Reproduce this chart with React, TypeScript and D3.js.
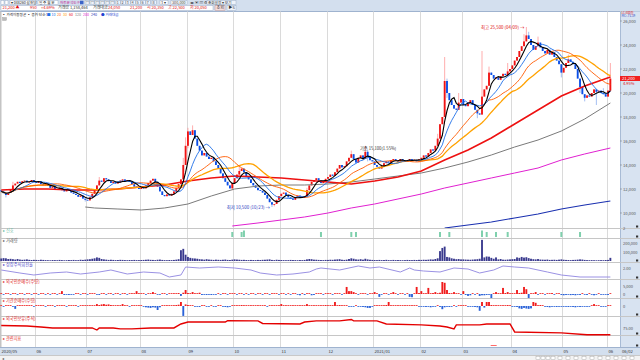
import React from "react";
import * as d3 from "d3";

// daily closes (won), 2020-05 .. 2021-06-02
const closes = [
  11800, 11650, 11500, 11700, 12000, 12300, 12450, 12600, 12500, 12650, 12700, 12550, 12600, 12750, 12600,
  12500, 12650, 12400, 12300, 12450, 12250, 12100, 12200, 12000, 11950, 12100, 11900, 11800, 11950, 11850, 11700, 11600, 11500, 11350, 11450, 11200, 11100,
  11050, 11300, 11600, 11900, 12300, 12700, 12600, 12900, 12800, 12650, 12500, 12600, 12450, 12550, 12700, 12800, 12650, 12750, 12600, 12400, 12200, 12100,
  12000, 12150, 12050, 12300, 12500, 12700, 12850, 12600, 12200, 11800, 11500, 11400, 11550, 11450, 11600, 11800, 12100, 12400, 12800, 14000, 15600,
  16800, 16500, 16900, 16200, 15600, 15200, 14800, 15000, 14700, 14500, 14600, 14300, 14000, 13700, 13300, 12900, 12600, 12300, 12050, 12500,
  12900, 13200, 13500, 13700, 13400, 13000, 12800, 12500, 12300, 12100, 11900, 11850, 11700, 11500, 11200, 10900, 10700, 10750, 11100, 11400,
  11600, 11700, 11500, 11300, 11200, 11100, 11300, 11450, 11350, 11250, 11400, 11900, 12300, 12600, 12750, 12900, 12700, 12500, 12600, 12850,
  13000, 13200, 13100, 13400, 13700, 14000, 13800, 13900, 14300, 14600, 14900, 14500, 14200, 14600, 14800, 14500, 15100, 14700, 14400, 14300,
  14000, 13850, 13700, 13900, 14150, 14300, 14200, 14400, 14500, 14350, 14300, 14500, 14400, 14250, 14400, 14500, 14350, 14450, 14300, 14500,
  14600, 14800, 14700, 15000, 15300, 15200, 15600, 16200, 17400, 18000, 21000, 20000, 19400, 19000, 18700, 18600, 19200, 19500,
  19000, 18900, 19200, 19400, 19000, 18600, 18300, 18200, 19700, 20300, 20600, 21700, 21500, 21200, 21300, 21100, 21400, 21600, 21500, 21800, 22000,
  22300, 22700, 23000, 23500, 23900, 24300, 24800, 24500, 24000, 23600, 23900, 24200, 23800, 23500, 23300, 23600, 23200, 23400, 23000, 22700, 22400, 21700,
  22100, 22500, 22800, 22600, 22400, 22000, 21200, 20500, 19900, 19600, 19800, 19700, 20000, 20300, 20100, 20200, 20000, 19900, 19700,
  20200, 21200,
];
const firstOpen = 11900;

// visible shadows (0 = none beyond the body)
const wickIdx = [2, 5, 36, 42, 78, 79, 80, 82, 83, 99, 102, 116, 117, 131, 150, 156, 157, 187, 190, 191, 196, 204, 206, 209, 217, 224, 225, 226, 230, 240, 243, 248, 250, 255, 258, 261];
const wickHigh = [0, 12600, 0, 13000, 14600, 16300, 17100, 17300, 16900, 0, 13900, 0, 0, 12100, 15200, 15600, 15300, 16600, 23000, 21200, 20000, 0, 23500, 22200, 22500, 24900, 25500, 25100, 24700, 22300, 23200, 0, 0, 0, 20400, 22500];
const wickLow = [11300, 0, 10950, 0, 0, 0, 15400, 0, 0, 11900, 0, 10500, 10550, 0, 0, 0, 14300, 0, 0, 19600, 0, 17900, 0, 0, 0, 0, 0, 0, 0, 21300, 0, 20000, 19300, 19000, 0, 20100];

// volume, thousand shares
const volumes = [
  28, 32, 30, 22, 24, 20, 16, 22, 16, 13, 15, 18, 13, 11, 13,
  12, 10, 14, 12, 10, 9, 8, 11, 10, 9, 12, 10, 8, 9, 11, 10, 12, 9, 10, 14, 12, 15,
  18, 20, 25, 30, 40, 35, 22, 18, 15, 12, 14, 12, 10, 11, 13, 12, 10, 9, 11, 10, 12, 10,
  10, 11, 12, 14, 16, 13, 12, 10, 14, 16, 12, 10, 9, 11, 10, 12, 15, 20, 120, 135, 70,
  45, 35, 30, 28, 25, 20, 18, 15, 20, 16, 14, 12, 15, 13, 12, 14, 16, 12, 11, 15,
  18, 16, 14, 12, 13, 11, 10, 12, 11, 10, 12, 11, 13, 14, 16, 18, 12, 10, 14, 12,
  11, 10, 9, 10, 12, 11, 10, 9, 11, 10, 12, 18, 22, 20, 15, 14, 12, 11, 10, 12,
  12, 14, 13, 16, 18, 20, 14, 12, 15, 22, 30, 25, 18, 16, 20, 15, 25, 18, 14, 12,
  11, 10, 12, 10, 11, 13, 10, 9, 12, 10, 11, 10, 9, 10, 12, 11, 10, 12, 11, 13,
  12, 14, 13, 15, 18, 16, 22, 30, 110, 145, 160, 45, 40, 30, 25, 20, 22, 18,
  18, 16, 15, 14, 16, 18, 20, 25, 235, 40, 50, 48, 35, 25, 40, 18, 22, 15, 14, 16, 18,
  20, 22, 40, 35, 45, 38, 42, 32, 25, 20, 18, 22, 16, 15, 14, 16, 12, 13, 14, 12, 15, 18,
  14, 12, 11, 10, 12, 13, 15, 18, 16, 12, 10, 9, 10, 9, 8, 9, 10, 9, 11,
  12, 35,
];

// foreign net buying, hundred shares
const foreignNet = [
  3, -2, 4, 2, -3, 5, 3, -2, 2, 4, -3, 2, 3, -2, 2, 3, -4, 2, 3, -2,
  2, -3, 4, 2, -2, 3, 18, -6, -5, -6, -4, -3, 2, 3, -2, 2, 3, -3, 4, 5,
  3, -4, -6, 3, 2, -2, 3, 2, -3, 2, 3, -2, 2, 4, -3, 2, 3, 5, 18, 3,
  2, 4, -3, 3, 5, 12, 3, -2, -4, 2, 3, -2, 2, 3, 4, 3, 6, -12, 8, 25,
  6, 4, 12, 5, 3, 8, -6, -5, -6, -4, -6, -5, -3, 2, -2, 3, 2, -3, 2, 4,
  3, -2, 4, 3, -3, 2, -2, 3, 2, -3, 2, 3, -2, 2, 3, -3, 2, 4, 3, -2,
  2, 3, -3, 2, -2, 3, 2, -3, -8, 2, -6, 3, 2, -8, -6, 3, 2, 4, -3, 3,
  4, 2, -3, 3, 5, 3, -2, 4, 44, 18, 18, 12, 4, -3, 3, 5, 3, -2, 4, 3,
  12, 3, -18, -4, 3, 2, -3, 5, 12, 3, -3, 4, 2, -4, 3, -18, -20, 4, 44, 6,
  18, 4, 5, 38, 3, 6, 12, 4, 8, 75, 70, 25, 6, 4, 12, 3, 5, -4, 18, -6,
  -12, -8, 3, -4, 2, -12, -8, -8, -6, -4, -25, 3, 12, 5, 4, 38, 6, 12, 3, 4,
  5, 25, 6, 8, 44, 30, -25, 3, 4, 12, -4, 3, 5, -3, 4, 3, 6, -4, 3, 2,
  -6, -8, -6, -5, -7, -6, -8, -5, -6, 3, -4, -6, 2, -3, -8, -4, 2, -3, -4, -2,
  -6, 3,
];

// institution net buying, hundred shares
const instNet = [
  4, -3, 3, 5, 2, -3, -18, 3, 4, 2, 3, 5, 2, 4, -3, 3, 2, 4, 3, -2,
  3, 4, 2, -3, 3, 5, 2, 3, -2, 4, 3, 2, 4, -3, 2, 3, 5, 3, 2, 4,
  3, 12, 6, 10, 12, 8, 10, 6, 3, 4, 3, 5, 12, 4, 3, -2, 3, 4, 2, 3,
  2, -3, -8, -10, -12, -8, -10, -25, -8, 3, 4, 2, 5, 3, 4, 6, 8, 25, -62, 10,
  6, 4, 3, -5, -4, -6, 3, 2, -3, -2, 3, -4, -5, 2, 3, -3, -6, -8, -4, 2,
  3, 4, 2, 6, 3, 4, 2, 3, 5, 2, 3, 4, 2, 3, -3, 2, 4, 3, 2, 4,
  12, 3, 4, 2, 5, 3, 4, 2, 3, 5, 4, 12, 3, 4, 5, 3, 4, 2, 3, 6,
  4, 5, 3, 25, 4, 6, 3, 4, 2, -3, -4, -3, 2, -4, -3, -6, -8, -12, -12, -4,
  3, 2, 4, 5, 3, 6, 25, 4, 3, 5, 4, 3, 5, 2, 4, 3, 5, 4, 3, -3,
  -4, -3, -6, -4, -8, -5, -4, 3, -6, -20, -8, -4, -6, -3, 2, -4, 3, 4, 2, 3,
  -3, -2, -4, -6, -8, -30, 25, -10, 25, 25, 6, 4, 3, 5, 2, 4, 3, 6, 4, -3,
  -4, -6, -15, -18, -12, -16, -18, -15, 25, 20, 4, 6, 3, -4, -6, -8, -5, -4, -6, -3,
  -4, -5, -3, -6, -4, -6, -8, -5, -6, -4, -3, -4, -5, 3, 12, 4, 3, -3, -2, -3,
  3, 2,
];

// turnover line (read at these candles)
const turnIdx = [0, 8, 14, 21, 28, 34, 42, 47, 54, 61, 68, 72, 77, 79, 85, 93, 100, 107, 111, 118, 125, 132, 135, 137, 145, 153, 158, 162, 171, 175, 177, 181, 188, 194, 200, 205, 211, 215, 220, 226, 234, 240, 248, 254, 261];
const turnVal = [1.8, 1.5, 1.3, 1.5, 1.6, 1.4, 1.6, 1.8, 1.4, 1.6, 1.5, 1.1, 1.3, 2.1, 2.0, 2.1, 2.0, 1.8, 1.5, 1.3, 1.4, 1.6, 1.9, 2.0, 1.8, 2.2, 2.0, 2.1, 1.6, 2.0, 1.8, 1.7, 1.6, 2.0, 1.9, 1.5, 1.8, 2.2, 2.1, 2.0, 1.6, 1.3, 1.1, 1.1, 1.1];

// foreign holding line
const holdIdx = [0, 11, 17, 22, 39, 41, 42, 48, 51, 56, 64, 74, 77, 80, 96, 97, 110, 112, 128, 130, 135, 145, 150, 151, 161, 165, 180, 188, 191, 194, 195, 205, 208, 218, 220, 240, 251, 261];
const holdVal = [75.9, 75.6, 75.0, 74.4, 74.4, 73.1, 74.4, 74.4, 73.8, 73.8, 74.4, 74.4, 76.9, 78.1, 78.1, 79.0, 78.8, 77.2, 76.9, 78.1, 78.8, 78.8, 79.7, 78.8, 78.8, 76.9, 76.3, 75.6, 75.0, 73.8, 76.3, 76.3, 76.9, 76.9, 71.9, 71.3, 70.2, 70.2];

// long moving averages
const ma60Idx = [0, 10, 20, 30, 40, 50, 60, 70, 80, 90, 100, 110, 120, 130, 140, 150, 160, 170, 180, 190, 200, 210, 220, 230, 240, 250, 261];
const ma60Val = [11917, 12000, 12000, 11917, 11917, 12000, 12167, 12333, 12667, 12917, 13083, 13000, 12917, 12750, 12583, 12417, 12667, 13000, 13500, 14417, 15250, 16250, 17417, 18583, 19750, 20583, 21333];
const ma120Idx = [36, 40, 50, 60, 70, 80, 90, 100, 110, 120, 130, 140, 150, 160, 170, 180, 190, 200, 210, 220, 230, 240, 250, 261];
const ma120Val = [10500, 10417, 10333, 10250, 10417, 10750, 11417, 12000, 12250, 12333, 12333, 12417, 12583, 12833, 13083, 13333, 13750, 14250, 14833, 15500, 16083, 16833, 17833, 19167];
const ma200Idx = [99, 110, 120, 130, 140, 150, 160, 170, 180, 190, 200, 210, 220, 230, 240, 250, 261];
const ma200Val = [8917, 9167, 9417, 9667, 10000, 10417, 10750, 11167, 11583, 12083, 12500, 12917, 13333, 13750, 14417, 14917, 15417];
const ma240Idx = [190, 200, 210, 220, 230, 240, 250, 261];
const ma240Val = [8750, 9000, 9250, 9583, 9917, 10333, 10667, 11000];

const sigIdx = [99, 103, 104, 137, 150, 152, 188, 192, 206, 208, 212, 217, 240, 248];
const sigLvl = [1, 1, 2, 1, 1, 1, 1, 1, 2, 1, 1, 1, 1, 1];
const p7Idx = [211];

const monthIdx = [15, 37, 60, 80, 100, 120, 140, 160, 180, 198, 219, 241, 260];
const monthLabels = ["06", "07", "08", "09", "10", "11", "12", "2021/01", "02", "03", "04", "05", "06"];
const priceTicks = [10000, 12000, 14000, 16000, 18000, 20000, 22000, 24000, 26000];

const legendText = ["▪ 가격이동평균 ▪ 종가 단순 5", "■ 10", "20", "30", "60", "120", "200", "240", "● 거래대금"];
const legendColor = ["#222", "#1f6fe8", "#ff5a00", "#ffa200", "#ee1111", "#7a7a7a", "#e020d0", "#1a30b0", "#2040d0"];
const legendX = [2, 47, 57, 63, 69, 75, 83, 91, 101];

const FONT = "'Noto Sans CJK KR', 'Noto Sans', sans-serif";
const PR = 620;

export default function App() {
  const N = closes.length;
  const opens = closes.map((c, i) => (i === 0 ? firstOpen : closes[i - 1]));
  const highs = closes.map((c, i) => Math.max(c, opens[i]));
  const lows = closes.map((c, i) => Math.min(c, opens[i]));
  wickIdx.forEach((i, k) => {
    if (wickHigh[k]) highs[i] = wickHigh[k];
    if (wickLow[k]) lows[i] = wickLow[k];
  });

  const x = d3.scaleBand<number>().domain(d3.range(N)).range([0.3, 611.3]).paddingInner(0.2);
  const bw = x.bandwidth();
  const cx = (i: number) => (x(i) as number) + bw / 2;
  const gx = (i: number) => Math.round((x(i) as number) - 0.3) + 0.5;

  const yP = d3.scaleLinear().domain([10000, 26000]).range([213, 21]);
  const yVol = d3.scaleLinear().domain([0, 200]).range([261, 243]);
  const yTurn = d3.scaleLinear().domain([1, 2]).range([278, 268]);
  const yFor = d3.scaleLinear().domain([0, 50]).range([294, 286]);
  const yInst = d3.scaleLinear().domain([0, 50]).range([306, 298]);
  const yHold = d3.scaleLinear().domain([70, 80]).range([335, 319]);

  const sma = (n: number) =>
    closes.map((_, i) => d3.mean(closes.slice(Math.max(0, i - n + 1), i + 1)) as number);
  const line = d3.line<[number, number]>();
  const maPath = (vals: number[]) => line(vals.map((v, i) => [cx(i), yP(v)]));
  const sampled = (idx: number[], vals: number[], ys: (v: number) => number) =>
    line(idx.map((i, k) => [cx(i), ys(vals[k])]));

  const shortMAs = [
    { vals: sma(30), color: "#ffa200", w: 1.3 },
    { vals: sma(20), color: "#ff5a00", w: 0.9 },
    { vals: sma(10), color: "#1f6fe8", w: 0.9 },
    { vals: sma(5), color: "#000000", w: 1.1 },
  ];
  const longMAs = [
    { idx: ma240Idx, vals: ma240Val, color: "#1a30b0", w: 1.1 },
    { idx: ma200Idx, vals: ma200Val, color: "#e020d0", w: 1 },
    { idx: ma120Idx, vals: ma120Val, color: "#7a7a7a", w: 1 },
    { idx: ma60Idx, vals: ma60Val, color: "#ee1111", w: 1.6 },
  ];

  const seps = [228, 238, 262, 279, 298, 316, 335, 347];
  const panelLabels = [
    { y: 232, t: "▸ 신호", c: "#5cb8a0" },
    { y: 242, t: "▸ 거래량", c: "#555" },
    { y: 266, t: "▸ 상장주식회전율", c: "#4a46c8" },
    { y: 283, t: "▸ 외국인순매수(수량)", c: "#e02020" },
    { y: 302, t: "▸ 기관순매수(수량)", c: "#e02020" },
    { y: 320, t: "▸ 외국인보유(주식)", c: "#e02020" },
    { y: 340, t: "▸ 관련지표", c: "#e02020" },
  ];
  const rightLabels = [
    { y: 230, t: "2" },
    { y: 245, t: "200,000" },
    { y: 253.5, t: "100,000" },
    { y: 269.5, t: "2.00" },
    { y: 287.5, t: "5,000" },
    { y: 295.5, t: "0" },
    { y: 307.5, t: "0" },
    { y: 329.5, t: "75.00" },
  ];
  const last = N - 1;

  return (
    <div style={{ position: "fixed", left: 0, top: 0 }}>
      <svg width={640} height={360} style={{ display: "block", fontFamily: FONT }}>
        <defs>
          <clipPath id="mainClip">
            <rect x={0} y={11.5} width={PR} height={216.5} />
          </clipPath>
        </defs>
        <rect width={640} height={360} fill="#ffffff" />

        {/* toolbar */}
        <rect x={0} y={0} width={640} height={11.5} fill="#d3dfee" />
        <line x1={0} x2={640} y1={11.5} y2={11.5} stroke="#9fb3cf" />
        {[1, 5].map((bx) => (
          <rect key={bx} x={bx} y={0.5} width={3} height={4} fill="#fff" stroke="#8fa3bf" strokeWidth={0.4} />
        ))}
        <rect x={10} y={0.5} width={26} height={4} fill="#fff" stroke="#8fa3bf" strokeWidth={0.4} />
        <text x={11} y={4} fontSize={3.6} fill="#222">▾ 048260 삼천당</text>
        <rect x={38} y={0.5} width={20} height={4} fill="#fff" stroke="#8fa3bf" strokeWidth={0.4} />
        <text x={39} y={4} fontSize={3.6} fill="#222">일 주 월 분</text>
        <text x={60} y={4} fontSize={3.6} fill="#c01890">차트분석도구</text>
        <rect x={80} y={0.7} width={3.5} height={3.6} fill="#3a64c8" />
        {[85, 90, 95, 100, 105, 110, 116, 121, 126, 131, 136, 141, 146, 152].map((bx, k) => (
          <g key={bx}>
            <rect x={bx} y={0.5} width={4.2} height={4} fill="#eef3fa" stroke="#8fa3bf" strokeWidth={0.4} />
            <text x={bx + 0.8} y={3.9} fontSize={3.4} fill="#444">{k < 6 ? "▤" : String(k - 5)}</text>
          </g>
        ))}
        <rect x={160} y={0.5} width={8} height={4} fill="#fff" stroke="#8fa3bf" strokeWidth={0.4} />
        <text x={161} y={4} fontSize={3.6} fill="#333">3 ▾</text>
        <rect x={171} y={0.5} width={16} height={4} fill="#fff" stroke="#8fa3bf" strokeWidth={0.4} />
        <text x={172} y={4} fontSize={3.8} fill="#333">300,000</text>
        <text x={190} y={4} fontSize={3.8} fill="#333">◂▸ ▣ ▦ ⚙</text>
        <rect x={207} y={0.5} width={29} height={4} fill="#eef3fa" stroke="#8fa3bf" strokeWidth={0.4} />
        <text x={208} y={4} fontSize={3.6} fill="#333">조회설정 ▾ 보기</text>

        <rect x={1} y={5.6} width={212} height={4.8} fill="#fff" stroke="#8fa3bf" strokeWidth={0.4} />
        <text x={2.5} y={9.4} fontSize={4} fill="#e01010">21,200 ▲</text>
        <text x={30} y={9.4} fontSize={4} fill="#e01010">950</text>
        <text x={41} y={9.4} fontSize={4} fill="#e01010">+4.69%</text>
        <text x={58} y={9.4} fontSize={4} fill="#333">거래량 1,158,464</text>
        <text x={93} y={9.4} fontSize={4} fill="#333">거래대금</text>
        <text x={108} y={9.4} fontSize={4} fill="#e01010">24,050</text>
        <text x={130} y={9.4} fontSize={4} fill="#e01010">21,200</text>
        <text x={147} y={9.4} fontSize={4} fill="#e01010">시 20,350</text>
        <text x={168} y={9.4} fontSize={4} fill="#e01010">고 22,500</text>
        <text x={190} y={9.4} fontSize={4} fill="#e01010">저 20,050</text>
        <rect x={215} y={5.6} width={10} height={4.8} fill="#f6dede" stroke="#b08080" strokeWidth={0.4} />
        <text x={216.5} y={9.4} fontSize={4} fill="#333">조회</text>
        <rect x={227} y={5.6} width={9} height={4.8} fill="#eef3fa" stroke="#8fa3bf" strokeWidth={0.4} />
        <text x={228.5} y={9.4} fontSize={4} fill="#333">▶S</text>

        {/* right axis panel */}
        <rect x={PR} y={11.5} width={20} height={335.5} fill="#d8e3f1" />
        <line x1={PR + 0.5} x2={PR + 0.5} y1={11.5} y2={347} stroke="#a8bbd5" />

        {/* month grid */}
        {monthIdx.map((i) => (
          <line key={i} x1={gx(i)} x2={gx(i)} y1={11.5} y2={347} stroke="#dadada" strokeWidth={1} />
        ))}
        <rect x={0} y={11.5} width={1.5} height={335.5} fill="#c4c4c4" />

        {/* panel separators */}
        {seps.map((s) => (
          <g key={s}>
            <line x1={0} x2={640} y1={s + 0.5} y2={s + 0.5} stroke="#c6c6c6" />
            <rect x={636} y={s - 2.5} width={2.2} height={2} fill="#333" />
          </g>
        ))}

        {/* main price chart */}
        <g clipPath="url(#mainClip)">
          {closes.map((c, i) => {
            const up = c >= opens[i];
            const top = yP(Math.max(c, opens[i]));
            const h = Math.max(0.8, Math.abs(yP(c) - yP(opens[i])));
            return (
              <g key={i}>
                <line x1={cx(i)} x2={cx(i)} y1={yP(highs[i])} y2={yP(lows[i])} stroke={up ? "#ff8a8a" : "#7ea4ec"} strokeWidth={0.7} />
                <rect x={x(i)} y={top} width={bw} height={h} fill={up ? "#f01414" : "#0a4ee6"} />
              </g>
            );
          })}
          {longMAs.map((m, k) => (
            <path key={"l" + k} d={sampled(m.idx, m.vals, yP) || ""} fill="none" stroke={m.color} strokeWidth={m.w} />
          ))}
          {shortMAs.map((m, k) => (
            <path key={"s" + k} d={maPath(m.vals) || ""} fill="none" stroke={m.color} strokeWidth={m.w} />
          ))}
        </g>

        {/* legend */}
        {legendText.map((t, k) => (
          <text key={k} x={legendX[k]} y={15.5} fontSize={3.6} fill={legendColor[k]}>
            {t}
          </text>
        ))}
        <rect x={2.5} y={17.5} width={4} height={3} fill="#bbb" stroke="#888" strokeWidth={0.3} />

        {/* high / low annotations */}
        <text x={cx(225) - 2} y={yP(25500) + 1.5} fontSize={4.4} fill="#e01010" textAnchor="end">
          최고 25,500 (04/09) →
        </text>
        <text x={cx(116) - 2} y={yP(10500) + 2} fontSize={4.4} fill="#2a3cc0" textAnchor="end">
          최저 10,500 (10/23) →
        </text>
        <text x={360} y={149.5} fontSize={4.2} fill="#333">기준 15,100(1.55%)</text>

        {/* price axis */}
        {priceTicks.map((p) => (
          <g key={p}>
            <line x1={PR} x2={PR + 2} y1={yP(p)} y2={yP(p)} stroke="#777" strokeWidth={0.5} />
            <text x={PR + 3} y={yP(p) + 1.6} fontSize={4.2} fill="#555">{d3.format(",")(p)}</text>
          </g>
        ))}
        <text x={PR + 1.5} y={14.0} fontSize={3} fill="#e01010">LC:800원</text>
        <text x={PR + 1.5} y={17.4} fontSize={3} fill="#2a3cc0">MC:-71.19</text>
        <rect x={PR} y={yP(closes[last]) - 2.6} width={20} height={5} fill="#f02020" />
        <text x={PR + 2} y={yP(closes[last]) + 1.4} fontSize={4.2} fill="#fff">{d3.format(",")(closes[last])}</text>
        <text x={PR + 3} y={yP(closes[last]) + 6.5} fontSize={4} fill="#e01010">4.95%</text>

        {/* signal panel */}
        {sigIdx.map((i, k) => (
          <rect key={i} x={cx(i) - 1} y={237 - (sigLvl[k] === 2 ? 6.5 : 5)} width={2} height={sigLvl[k] === 2 ? 6.5 : 5} fill="#7fd0ad" />
        ))}

        {/* volume */}
        {volumes.map((v, i) => (
          <rect key={i} x={x(i)} y={yVol(v)} width={bw} height={yVol(0) - yVol(v)} fill="#3a3a8e" />
        ))}

        {/* turnover */}
        <path d={sampled(turnIdx, turnVal, yTurn) || ""} fill="none" stroke="#8e84e0" strokeWidth={0.9} />

        {/* foreign net */}
        {foreignNet.map((v, i) => {
          const y0 = yFor(0);
          const h = Math.max(0.8, Math.abs(yFor(v) - y0));
          return <rect key={i} x={x(i)} y={v >= 0 ? y0 - h : y0} width={bw} height={h} fill={v >= 0 ? "#f01c1c" : "#2a62d8"} />;
        })}

        {/* institution net */}
        {instNet.map((v, i) => {
          const y0 = yInst(0);
          const h = Math.max(0.8, Math.abs(yInst(v) - y0));
          return <rect key={i} x={x(i)} y={v >= 0 ? y0 - h : y0} width={bw} height={h} fill={v >= 0 ? "#f01c1c" : "#2a62d8"} />;
        })}

        {/* foreign holding */}
        <path d={sampled(holdIdx, holdVal, yHold) || ""} fill="none" stroke="#e40000" strokeWidth={1.4} />

        {/* extra panel mark */}
        {p7Idx.map((i) => (
          <line key={i} x1={cx(i) - 3} x2={cx(i) + 3} y1={345.5} y2={345.5} stroke="#ff6a6a" strokeWidth={1} />
        ))}

        {/* panel labels */}
        {panelLabels.map((l) => (
          <text key={l.t} x={3} y={l.y} fontSize={4.2} fill={l.c}>{l.t}</text>
        ))}
        {rightLabels.map((l, k) => (
          <text key={k} x={PR + 3} y={l.y} fontSize={4} fill="#555">{l.t}</text>
        ))}

        {/* x axis */}
        <rect x={0} y={347.5} width={640} height={7.5} fill="#d3dfee" />
        <line x1={0} x2={640} y1={347.5} y2={347.5} stroke="#9fb3cf" />
        <text x={1.5} y={353} fontSize={4.2} fill="#333">2020/05</text>
        {monthIdx.map((i, k) => (
          <text key={i} x={gx(i) + 1} y={353} fontSize={4.2} fill="#333">{monthLabels[k]}</text>
        ))}
        <text x={PR + 2} y={353} fontSize={4.2} fill="#333">06/02</text>

        {/* scroll row */}
        <rect x={0} y={355} width={640} height={5} fill="#f3f3f3" />
        <line x1={0} x2={640} y1={355.5} y2={355.5} stroke="#c8c8c8" />
        <text x={2} y={359.5} fontSize={4} fill="#555">◂</text>
        {[536, 541, 546, 551, 558, 566, 574, 582, 590, 598, 606, 614, 622, 630].map((bx) => (
          <rect key={bx} x={bx} y={356.3} width={4} height={3.4} fill="#fff" stroke="#999" strokeWidth={0.4} />
        ))}
      </svg>
    </div>
  );
}
